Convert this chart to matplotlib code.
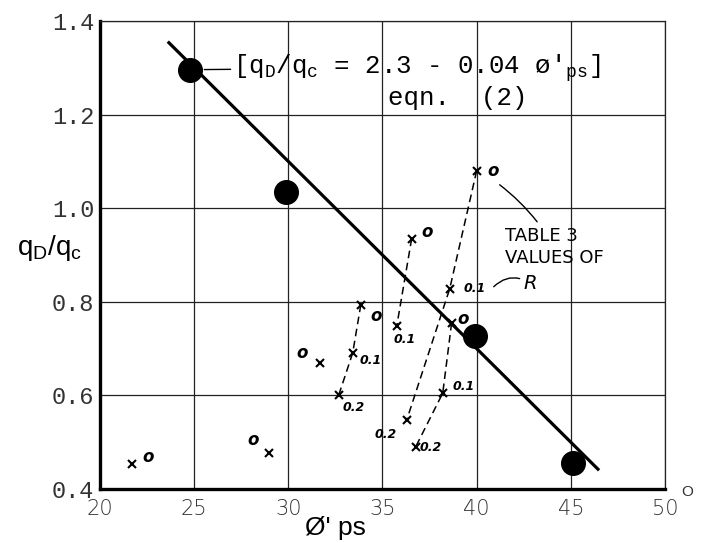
import matplotlib
matplotlib.use("Agg")
from matplotlib import pyplot as plt
from matplotlib.transforms import offset_copy

# measured values (big dots) and the eqn. (2) fit line
measured_phi = [24.8, 29.9, 39.9, 45.1]
measured_ratio = [1.296, 1.035, 0.727, 0.455]
fit_phi = [23.6, 46.5]
fit_ratio = [1.356, 0.44]

# Table 3 values, one dashed curve per case, points for R = 0, 0.1, 0.2
r_labels = ["o", "0.1", "0.2"]
curve_a_phi = [33.85, 33.42, 32.68]
curve_a_ratio = [0.794, 0.691, 0.601]
curve_b_phi = [36.55, 35.76]
curve_b_ratio = [0.935, 0.749]
curve_c_phi = [40.0, 38.57, 36.29]
curve_c_ratio = [1.08, 0.828, 0.548]
curve_d_phi = [38.67, 38.2, 36.76]
curve_d_ratio = [0.755, 0.605, 0.49]

# single points (R = 0 only)
single_phi = [21.7, 28.97, 31.67]
single_ratio = [0.453, 0.477, 0.67]

x_ticks = [20, 25, 30, 35, 40, 45, 50]
y_ticks = [0.4, 0.6, 0.8, 1.0, 1.2, 1.4]

plt.rcParams["mathtext.fontset"] = "custom"
plt.rcParams["mathtext.rm"] = "Liberation Sans"
plt.rcParams["mathtext.tt"] = "Liberation Mono"

fig = plt.figure(figsize=(7.07, 5.43), dpi=100)
ax = fig.add_axes([0.1414, 0.0994, 0.7992, 0.8619])

ax.set_xlim(20, 50)
ax.set_ylim(0.4, 1.4)
ax.set_xticks(x_ticks)
ax.set_yticks(y_ticks)
ax.set_xticklabels([str(t) for t in x_ticks], fontsize=15, family="DejaVu Sans",
                   color="#333333", fontweight="light")
ax.set_yticklabels([f"{t:.1f}" for t in y_ticks], fontsize=17, family="Liberation Mono",
                   color="#333333")
ax.tick_params(length=0, pad=4)
ax.tick_params(axis="x", pad=7)
ax.grid(True, color="#222222", lw=0.9)
for side in ["left", "bottom"]:
    ax.spines[side].set_linewidth(2.4)
for side in ["top", "right"]:
    ax.spines[side].set_linewidth(0.9)
    ax.spines[side].set_color("#222222")

ax.set_ylabel(r"q$_\mathrm{D}$/q$_\mathrm{c}$", fontsize=20, family="Liberation Sans",
              rotation=0, va="center", ha="center")
ax.yaxis.set_label_coords(-0.0885, 0.515)
ax.set_xlabel("Ø' ps", fontsize=19, family="Liberation Sans", va="center", ha="center")
ax.xaxis.set_label_coords(0.416, -0.083)

# degree sign after the last tick label
ax.annotate("O", xy=(x_ticks[-1], y_ticks[0]), xytext=(22, -3), textcoords="offset pixels",
            fontsize=11, family="Liberation Sans", color="#333333", ha="center", va="center",
            annotation_clip=False)

# fit line and measured dots
ax.plot(fit_phi, fit_ratio, color="black", lw=2.3, solid_capstyle="butt", zorder=4)
ax.plot(measured_phi, measured_ratio, "o", color="black", ms=17, zorder=5)

ax.annotate(r"[q$_\mathtt{D}$/q$_\mathtt{c}$ = 2.3 - 0.04 ø'$_\mathtt{ps}$]",
            xy=(measured_phi[0], measured_ratio[0]), xytext=(43, 2), textcoords="offset pixels",
            fontsize=18.5, family="Liberation Mono", va="center", ha="left",
            arrowprops=dict(arrowstyle="-", lw=1.0, shrinkA=0, shrinkB=10, color="black"))
ax.text(35.28, 1.236, "eqn.  (2)", fontsize=18.5, family="Liberation Mono", va="center")

# dashed Table 3 curves
hand = dict(fontsize=9, family="DejaVu Sans", fontweight="bold", fontstyle="italic")
curves = [
    (curve_a_phi, curve_a_ratio, [(15, -11, "center"), (7, -8, "left"), (4, -13, "left")]),
    (curve_b_phi, curve_b_ratio, [(15, 7, "center"), (-3, -14, "left")]),
    (curve_c_phi, curve_c_ratio, [(16, 0, "center"), (14, 0, "left"), (-10, -15, "right")]),
    (curve_d_phi, curve_d_ratio, [(11, 4, "center"), (10, 7, "left"), (4, -1, "left")]),
]
for phi, ratio, offs in curves:
    ax.plot(phi, ratio, color="black", lw=1.1, ls=(0, (5, 3)), zorder=3)
    ax.plot(phi, ratio, "x", color="black", ms=6, mew=1.5, zorder=3)
    for i, (dx, dy, ha) in enumerate(offs):
        label = r_labels[i]
        size = 12 if label == "o" else hand["fontsize"]
        ax.annotate(label, xy=(phi[i], ratio[i]), xytext=(dx, dy), textcoords="offset pixels",
                    ha=ha, va="center", **{**hand, "fontsize": size})

single_offs = [(16, 7), (-16, 13), (-18, 10)]
ax.plot(single_phi, single_ratio, "x", color="black", ms=6, mew=1.5, zorder=3)
for x, y, (dx, dy) in zip(single_phi, single_ratio, single_offs):
    ax.annotate("o", xy=(x, y), xytext=(dx, dy), textcoords="offset pixels",
                ha="center", va="center", fontsize=12, fontweight="bold", fontstyle="italic")

# "TABLE 3 VALUES OF R" note
base = offset_copy(ax.transData, fig=fig, x=23, y=-14, units="dots")
ax.annotate("TABLE 3\nVALUES OF", xy=(curve_c_phi[0], curve_c_ratio[0]), xycoords=base,
            xytext=(5, -42), textcoords="offset pixels", ha="left", va="top",
            fontsize=13, family="DejaVu Sans", linespacing=1.3,
            arrowprops=dict(arrowstyle="-", lw=1.0, shrinkA=2, shrinkB=0, color="black",
                            connectionstyle="arc3,rad=0.1"))
base_r = offset_copy(ax.transData, fig=fig, x=44, y=2, units="dots")
ax.annotate("R", xy=(curve_c_phi[1], curve_c_ratio[1]), xycoords=base_r,
            xytext=(30, 3), textcoords="offset pixels", ha="left", va="center",
            fontsize=14, family="DejaVu Sans", fontstyle="italic",
            arrowprops=dict(arrowstyle="-", lw=1.0, shrinkA=1, shrinkB=0, color="black",
                            connectionstyle="arc3,rad=0.4"))

fig.savefig("out.png", dpi=100)
